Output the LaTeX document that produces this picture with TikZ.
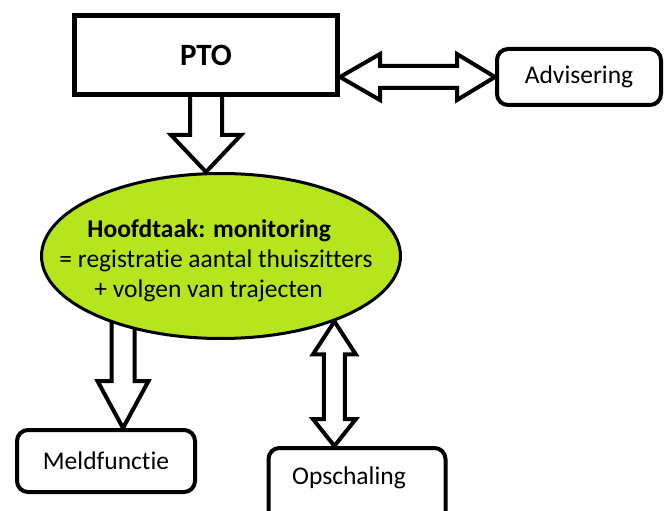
\documentclass[tikz,border=0pt]{standalone}
\usepackage{fontspec}
\setmainfont{Carlito}[Ligatures=NoCommon]
\usetikzlibrary{calc,shapes.geometric,backgrounds}
\definecolor{limoen}{RGB}{181,230,29}
\tikzset{
	hoofdbox/.style={draw, line width=5pt, fill=white, minimum width=263pt, minimum height=79pt, font=\fontsize{31}{36}\selectfont\bfseries},
	rondbox/.style={draw, line width=4pt, fill=white, rounded corners=11pt, font=\fontsize{25.5}{30}\selectfont},
	taakellips/.style={ellipse, draw, line width=3pt, fill=limoen, minimum width=359pt, minimum height=165pt},
	blokpijl/.style={draw, line width=4pt, fill=white, line join=miter},
}
\begin{document}
\begin{tikzpicture}[x=1pt, y=-1pt]
	\useasboundingbox (0,0) rectangle (665,511);
	\clip (0,0) rectangle (665,511);
	
	\node[hoofdbox] (pto) at (206,55) {PTO};
	\node[rondbox, minimum width=164pt, minimum height=56pt] (adv) at (579,77) {Advisering};
	\node[taakellips] (hoofd) at (221,256) {};
	\node[align=left, font=\fontsize{25.5}{30}\selectfont] (taak) at (216,261) {\hspace{28pt}\textbf{Hoofdtaak: monitoring}\\= registratie aantal thuiszitters\\\hspace{35pt}+ volgen van trajecten};
	\node[rondbox, minimum width=178pt, minimum height=62pt] (meld) at (106,461) {Meldfunctie};
	\node[rondbox, minimum width=177pt, minimum height=80pt, text depth=25pt] (opsch) at (357,488) {\hspace*{-16pt}Opschaling};
	
	\begin{scope}[on background layer]
		\coordinate (p1) at (pto.south |- hoofd.north);
		\draw[blokpijl] ($(pto.center)+(-16,0)$) -- ($(p1)+(-16,-37)$) -- ($(p1)+(-35,-37)$) -- (p1) -- ($(p1)+(35,-37)$) -- ($(p1)+(16,-37)$) -- ($(pto.center)+(16,0)$) -- cycle;
		
		\coordinate (p2) at ($(meld.north)+(17,0)$);
		\draw[blokpijl] ($(hoofd.center -| p2)+(-11.5,0)$) -- ($(p2)+(-11.5,-47)$) -- ($(p2)+(-25.5,-47)$) -- (p2) -- ($(p2)+(25.5,-47)$) -- ($(p2)+(11.5,-47)$) -- ($(hoofd.center -| p2)+(11.5,0)$) -- cycle;
		
		\coordinate (p3) at (hoofd.-30);
		\coordinate (p4) at (p3 |- opsch.north);
		\draw[blokpijl] (p3) -- ($(p3)+(21.5,33)$) -- ($(p3)+(10.5,33)$) -- ($(p4)+(10.5,-27)$) -- ($(p4)+(21.5,-27)$) -- (p4) -- ($(p4)+(-21.5,-27)$) -- ($(p4)+(-10.5,-27)$) -- ($(p3)+(-10.5,33)$) -- ($(p3)+(-21.5,33)$) -- cycle;
		
		\coordinate (p5) at (adv.west);
		\coordinate (p6) at (adv.west -| pto.east);
		\draw[blokpijl] (p6) -- ($(p6)+(40,-23)$) -- ($(p6)+(40,-11)$) -- ($(p5)+(-38,-11)$) -- ($(p5)+(-38,-23)$) -- (p5) -- ($(p5)+(-38,23)$) -- ($(p5)+(-38,11)$) -- ($(p6)+(40,11)$) -- ($(p6)+(40,23)$) -- cycle;
	\end{scope}
\end{tikzpicture}
\end{document}
